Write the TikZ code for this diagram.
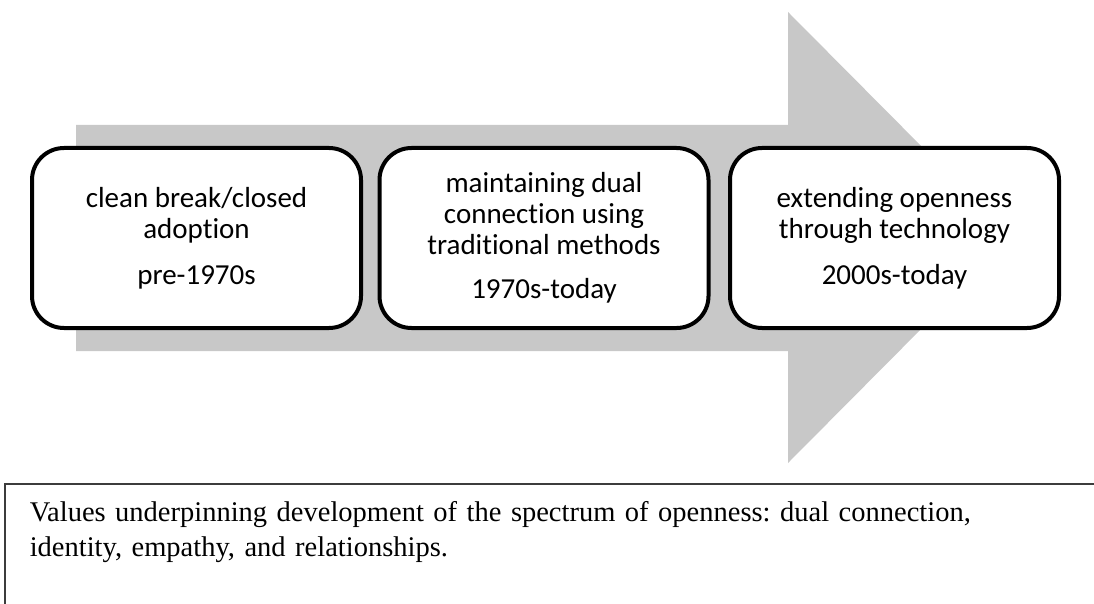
\documentclass[tikz,border=0pt]{standalone}
\usepackage{fontspec}
\usepackage{tikz}
\newfontfamily\calibrifont[Ligatures=NoCommon]{Carlito}
\newfontfamily\timesfont{Liberation Serif}
\definecolor{arrowgray}{RGB}{200,200,200}
\definecolor{framegray}{RGB}{60,60,60}
\frenchspacing

\begin{document}
\begin{tikzpicture}[x=1pt,y=-1pt,
	stage/.style={draw=black,line width=4pt,fill=white,rounded corners=32pt,
		minimum width=329pt,minimum height=180pt,align=center,
		font=\calibrifont\fontsize{29}{31}\selectfont},
	valuesbox/.style={draw=framegray,line width=1.5pt,anchor=north west,
		text width=1060pt,inner xsep=25pt,inner ysep=18pt,text depth=90pt,
		align=left,font=\timesfont\fontsize{28.5}{35}\selectfont}]
\useasboundingbox (0,0) rectangle (1094,604);
\fill[arrowgray] (76,125) -- (788,125) -- (788,12) -- (1012,237.5)
	-- (788,463) -- (788,351) -- (76,351) -- cycle;
\path (196.5,238) node[stage](pre) {clean break/closed\\adoption\\[15pt]pre-1970s}
		(544,238) node[stage](dual) {maintaining dual\\connection using\\traditional methods\\[13pt]1970s-today}
		(894.5,238) node[stage](tech) {extending openness\\through technology\\[15pt]2000s-today}
		;
\node[valuesbox] (values) at (4,483) {Values underpinning development of the spectrum of openness: dual connection,\\identity, empathy, and relationships.};
\end{tikzpicture}
\end{document}
